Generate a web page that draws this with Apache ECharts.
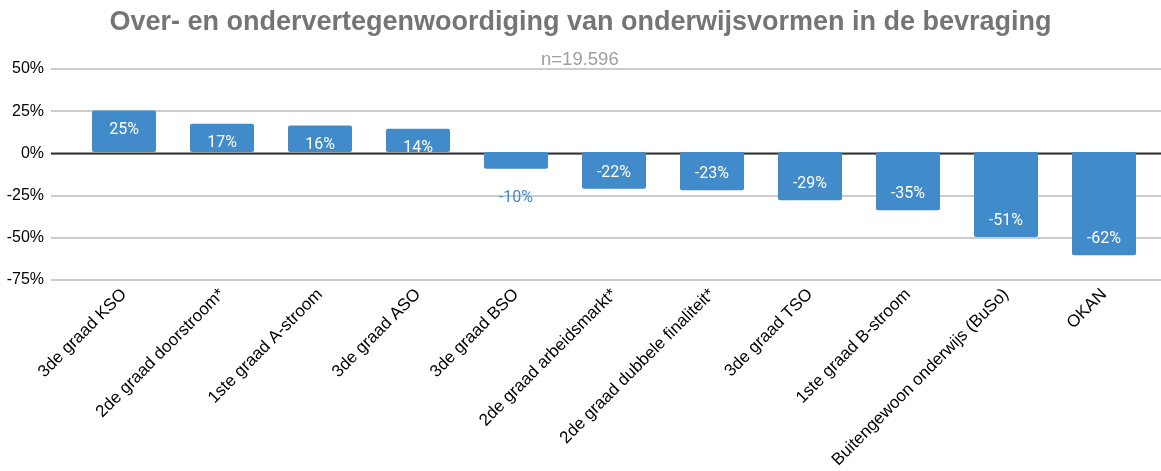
<!DOCTYPE html>
<html>
<head>
<meta charset="utf-8">
<script src="https://cdn.jsdelivr.net/npm/echarts@6/dist/echarts.min.js"></script>
<style>
  html, body { margin: 0; padding: 0; background: #fff; }
  #chart { width: 1161px; height: 471px; }
</style>
</head>
<body>
<div id="chart"></div>
<script>
var categories = [
  "3de graad KSO",
  "2de graad doorstroom*",
  "1ste graad A-stroom",
  "3de graad ASO",
  "3de graad BSO",
  "2de graad arbeidsmarkt*",
  "2de graad dubbele finaliteit*",
  "3de graad TSO",
  "1ste graad B-stroom",
  "Buitengewoon onderwijs (BuSo)",
  "OKAN"
];
var values = [25, 17, 16, 14, -10, -22, -23, -29, -35, -51, -62];
var yTicks = [-75, -50, -25, 0, 25, 50];

var barColor = "#428bca";

var myChart = echarts.init(document.getElementById("chart"));

var barData = values.map(function (v) {
  var item = { value: v, label: {} };
  if (v > -15 && v < 0) {
    // small bar: label sits below it, in bar colour
    item.label = { position: "bottom", distance: 21, color: barColor };
  } else if (v < 0) {
    item.label = { position: "insideBottom", distance: 8 };
  } else {
    item.label = { position: "insideTop", distance: 11 };
  }
  return item;
});

var option = {
  animation: false,
  textStyle: { fontFamily: "Liberation Sans, Arial, sans-serif" },
  title: [
    {
      text: "Over- en ondervertegenwoordiging van onderwijsvormen in de bevraging",
      left: "center",
      top: 4,
      textStyle: { fontSize: 27, fontWeight: "bold", color: "#757575", fontFamily: "Liberation Sans, Arial, sans-serif" }
    },
    {
      text: "n=19.596",
      left: 536,
      top: 45,
      textStyle: { fontSize: 18.5, fontWeight: "normal", color: "#9e9e9e", fontFamily: "Liberation Sans, Arial, sans-serif" }
    }
  ],
  grid: [
    // background grid, wider, only for the horizontal gridlines
    { left: 51, right: 0, top: 69, height: 211 },
    // bars
    { left: 75, right: 8, top: 69, height: 211 }
  ],
  xAxis: [
    { gridIndex: 0, type: "value", show: false, min: 0, max: 1 },
    {
      gridIndex: 1,
      type: "category",
      data: categories,
      position: "bottom",
      axisLine: { show: false, onZero: false },
      axisTick: { show: false },
      axisLabel: { rotate: 45, interval: 0, margin: 15, fontSize: 17, color: "#000" }
    }
  ],
  yAxis: [
    {
      gridIndex: 0,
      type: "value",
      min: yTicks[0],
      max: yTicks[yTicks.length - 1],
      interval: 25,
      axisLine: { show: false },
      axisTick: { show: false },
      axisLabel: { margin: 7, fontSize: 16, color: "#000", formatter: "{value}%" },
      splitLine: { lineStyle: { color: "#cccccc", width: 2 } }
    },
    {
      gridIndex: 1,
      type: "value",
      min: yTicks[0],
      max: yTicks[yTicks.length - 1],
      interval: 25,
      show: false,
      splitLine: { show: false }
    }
  ],
  series: [
    {
      type: "line",
      xAxisIndex: 0,
      yAxisIndex: 0,
      data: [[0, 0], [1, 0]],
      symbol: "none",
      silent: true,
      z: 1,
      lineStyle: { color: "#333333", width: 2 }
    },
    {
      type: "bar",
      xAxisIndex: 1,
      yAxisIndex: 1,
      barWidth: 64,
      z: 3,
      itemStyle: { color: barColor, borderRadius: 2 },
      label: {
        show: true,
        color: "#ffffff",
        fontSize: 16,
        fontFamily: "Roboto, sans-serif",
        formatter: "{c}%"
      },
      data: barData
    }
  ]
};

myChart.setOption(option);
window.addEventListener("resize", function () {
  myChart.resize();
});
</script>
</body>
</html>
